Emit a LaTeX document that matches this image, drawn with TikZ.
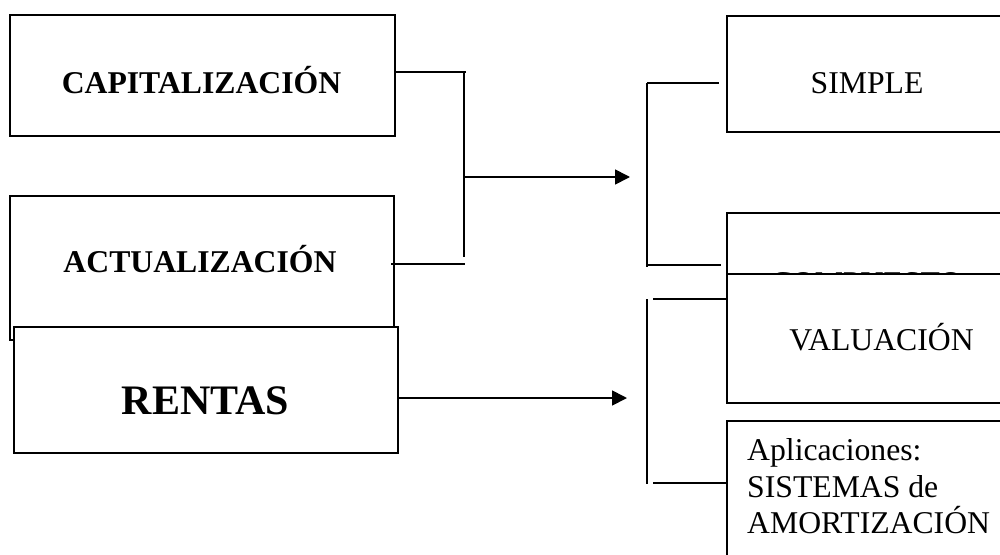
\documentclass[tikz,border=0pt]{standalone}
\usepackage{fontspec}
\setmainfont{Liberation Serif}
\usetikzlibrary{arrows.meta}
\begin{document}
\begin{tikzpicture}[x=1pt,y=-1pt,
  box/.style={draw, line width=1.8pt, fill=white, inner sep=0pt, anchor=north west},
  conn/.style={line width=1.7pt},
  arr/.style={line width=1.7pt, -{Triangle[length=15pt,width=15pt]}},
  txt/.style={inner sep=0pt, font=\fontsize{31.7}{36.7}\selectfont},
  btxt/.style={inner sep=0pt, font=\fontsize{31.7}{36.7}\selectfont\bfseries},
  big/.style={inner sep=0pt, font=\fontsize{42}{48}\selectfont\bfseries}]
\useasboundingbox (0,0) rectangle (1000,554);
\clip (0,0) rectangle (1000,554);
\fill[white] (0,0) rectangle (1000,554);
% left boxes
\node[box, minimum width=385pt, minimum height=121pt] (cap) at (9,14) {};
\node[btxt, anchor=base] (capt) at (201.5,93) {CAPITALIZACIÓN};
\node[box, minimum width=384pt, minimum height=144pt] (act) at (9,195) {};
\node[btxt, anchor=base] (actt) at (200,272) {ACTUALIZACIÓN};
\node[box, minimum width=384pt, minimum height=126pt] (ren) at (13,326) {};
\node[big, anchor=base] (rent) at (205.5,414) {RENTAS};
% right boxes
\node[box, minimum width=400pt, minimum height=116pt] (sim) at (726,15) {};
\node[txt, anchor=base] (simt) at (867,93) {SIMPLE};
\node[box, minimum width=400pt, minimum height=130pt] (com) at (726,212) {};
\node[txt, anchor=base] (comt) at (866.5,293) {COMPUESTO};
\node[box, minimum width=400pt, minimum height=129pt] (val) at (726,273) {};
\node[txt, anchor=base] (valt) at (881.5,350) {VALUACIÓN};
\node[box, minimum width=400pt, minimum height=200pt] (apl) at (726,420) {};
\node[txt, anchor=base west] (apl1) at (747,460) {Aplicaciones:};
\node[txt, anchor=base west] (apl2) at (747,497) {SISTEMAS de};
\node[txt, anchor=base west] (apl3) at (747,533) {AMORTIZACIÓN};
% connector points
\coordinate (a2) at (466,72);
\coordinate (v1) at (464,72);
\coordinate (v2) at (464,257);
\coordinate (b1) at (391,264);
\coordinate (b2) at (465,264);
\coordinate (m1) at (464,177);
\coordinate (m2) at (630,177);
\coordinate (r1) at (647,83);
\coordinate (r2) at (647,267);
\coordinate (s2) at (719,83);
\coordinate (c1) at (647,265);
\coordinate (c2) at (721,265);
\coordinate (rent2) at (627,398);
\coordinate (w1) at (647,299);
\coordinate (w2) at (647,484);
\coordinate (x1) at (653,299);
\coordinate (y1) at (653,483);
% connectors
\draw[conn] (cap.east |- a2) -- (a2);
\draw[conn] (v1) -- (v2);
\draw[conn] (b1) -- (b2);
\draw[arr] (m1) -- (m2);
\draw[conn] (r1) -- (r2);
\draw[conn] (r1) -- (s2);
\draw[conn] (c1) -- (c2);
\draw[arr] (ren.east |- rent2) -- (rent2);
\draw[conn] (w1) -- (w2);
\draw[conn] (x1) -- (val.west |- x1);
\draw[conn] (y1) -- (apl.west |- y1);
\end{tikzpicture}
\end{document}
